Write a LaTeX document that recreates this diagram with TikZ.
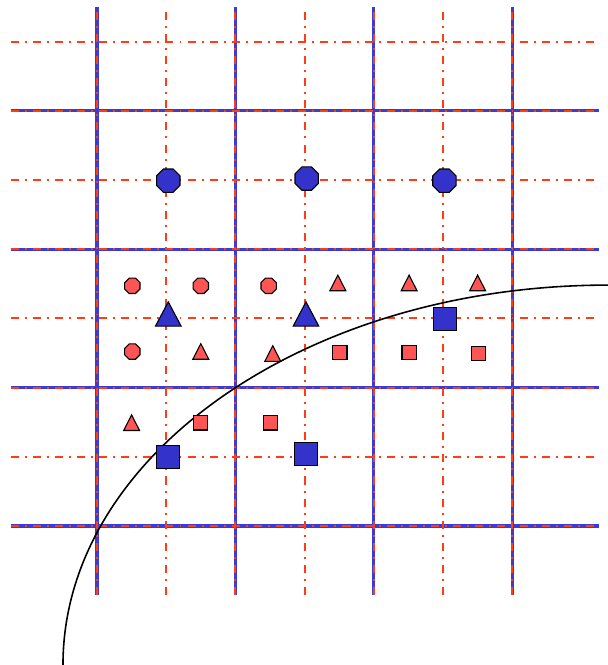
\documentclass[tikz,border=0pt]{standalone}
\usetikzlibrary{shapes.geometric}

\definecolor{gridblue}{RGB}{60,60,210}
\definecolor{gridred}{RGB}{255,60,20}
\definecolor{markblue}{RGB}{51,51,204}
\definecolor{markred}{RGB}{255,85,85}

\begin{document}
\begin{tikzpicture}[
  x=1cm, y=1cm,
  coarse/.style={gridblue, line width=1.3pt},
  fine/.style={gridred, line width=0.85pt,
               dash pattern=on 3.3pt off 2.5pt on 0.8pt off 2.5pt},
  marker/.style={draw=black, line width=0.45pt, inner sep=0pt, outer sep=0pt},
  bigoct/.style={marker, regular polygon, regular polygon sides=8,
                 minimum size=0.365cm, fill=markblue},
  smalloct/.style={marker, regular polygon, regular polygon sides=8,
                   minimum size=0.24cm, fill=markred},
  bigtri/.style={marker, isosceles triangle, isosceles triangle stretches,
                 shape border rotate=90, minimum width=0.37cm,
                 minimum height=0.35cm, fill=markblue},
  smalltri/.style={marker, isosceles triangle, isosceles triangle stretches,
                   shape border rotate=90, minimum width=0.23cm,
                   minimum height=0.225cm, fill=markred},
  bigsq/.style={marker, rectangle, minimum size=0.33cm, fill=markblue},
  smallsq/.style={marker, rectangle, minimum size=0.205cm, fill=markred},
]
% Coordinate system: one unit = half a coarse cell

\useasboundingbox (-1.402,-2.009) rectangle (7.384,7.601);

% --- Coarse grid ---
\foreach \x in {0,2,4,6}
  \draw[coarse] (\x,-1) -- (\x,7.5);
\foreach \y in {0,2,4,6}
  \draw[coarse] (-1.25,\y) -- (7.25,\y);

% --- Fine grid (dash-dot, also over the coarse lines) ---
\foreach \x in {0,...,6}
  \draw[fine] (\x,-1) -- (\x,7.5);
\foreach \y in {0,...,7}
  \draw[fine] (-1.25,\y) -- (7.25,\y);

% --- Boundary curve (quarter ellipse) ---
\coordinate (corner) at (7.384,-2.009);
\draw[black, line width=0.65pt] ([yshift=5.49cm]corner)
  arc[start angle=90, end angle=180, x radius=7.876, y radius=5.49];

% --- Coarse markers ---
\foreach \pos [count=\i] in {(1.03,4.99), (3.03,5.02), (5.02,4.99)}
  \node[bigoct] (bo\i) at \pos {};
\foreach \pos [count=\i] in {(1.03,3.0), (3.02,3.0)}
  \node[bigtri] (bt\i) at \pos {};
\foreach \pos [count=\i] in {(1.03,1.0), (3.02,1.04), (5.03,2.99)}
  \node[bigsq] (bs\i) at \pos {};

% --- Fine markers ---
\foreach \pos [count=\i] in {(0.51,3.47), (1.50,3.47), (2.48,3.47), (0.51,2.52)}
  \node[smalloct] (ro\i) at \pos {};
\foreach \pos [count=\i] in {(3.48,3.47), (4.51,3.47), (5.50,3.47),
                             (1.50,2.48), (2.54,2.45), (0.50,1.45)}
  \node[smalltri] (rt\i) at \pos {};
\foreach \pos [count=\i] in {(3.51,2.51), (4.51,2.51), (5.51,2.49),
                             (1.50,1.49), (2.51,1.49)}
  \node[smallsq] (rs\i) at \pos {};

\end{tikzpicture}
\end{document}
